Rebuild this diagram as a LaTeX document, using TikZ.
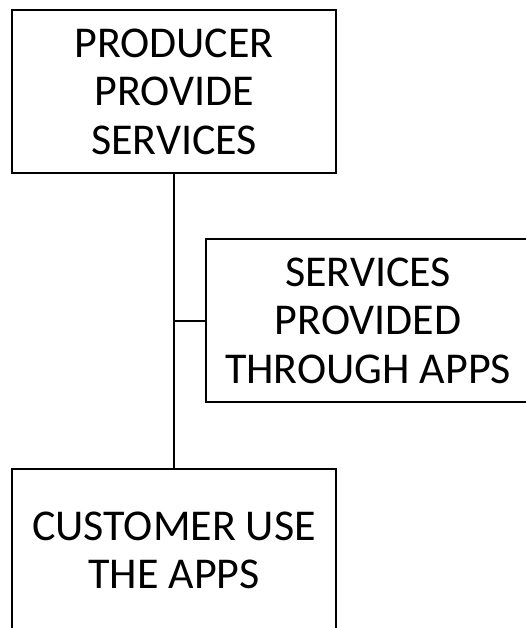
\documentclass[tikz,border=0pt]{standalone}
\usepackage{fontspec}
\setmainfont{Carlito}
\usepackage{tikz}

\begin{document}
\begin{tikzpicture}[
  x=1pt, y=1pt,
  my box/.style={
    draw, line width=2pt,
    minimum width=324pt, minimum height=163pt,
    inner sep=0pt, align=center,
    font=\fontsize{44}{48.5}\selectfont,
  }]
  \useasboundingbox (0,0) rectangle (526,-628);
  \begin{scope}
  \clip (0,0) rectangle (526,-628);
  \node[my box] (prod) at (174,-91.5) {PRODUCER\\PROVIDE\\SERVICES};
  \node[my box] (apps) at (368,-320.5) {SERVICES\\PROVIDED\\THROUGH APPS};
  \node[my box] (cust) at (174,-550.5) {CUSTOMER USE\\THE APPS};
  \coordinate (J) at (prod.south |- apps.west);
  \draw[line width=2pt] (prod) -- (cust);
  \draw[line width=2pt] (J) -- (apps);
  \end{scope}
\end{tikzpicture}
\end{document}
